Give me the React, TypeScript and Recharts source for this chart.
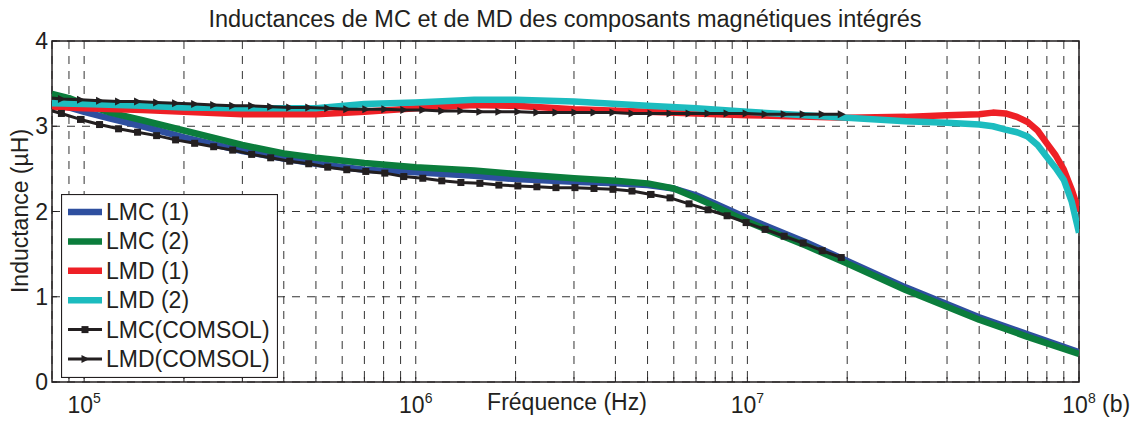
import React from "react";
import {
  LineChart,
  Line,
  XAxis,
  YAxis,
  CartesianGrid,
  ReferenceArea,
  Legend,
} from "recharts";

// measured curves (frequency in Hz, inductance in µH)
const lmcFreq = [8e4, 9e4, 1e5, 1.2e5, 1.5e5, 2e5, 3e5, 4e5, 5e5, 7e5, 1e6, 1.5e6, 2e6, 3e6, 4e6, 5e6, 6e6, 7e6, 8e6, 1e7, 1.5e7, 2e7, 3e7, 5e7, 7e7, 1e8];
const lmc1 = [3.28, 3.22, 3.17, 3.09, 3.0, 2.87, 2.71, 2.62, 2.56, 2.49, 2.46, 2.42, 2.38, 2.35, 2.33, 2.31, 2.27, 2.19, 2.09, 1.92, 1.64, 1.42, 1.11, 0.76, 0.56, 0.35];
const lmc2 = [3.38, 3.33, 3.26, 3.16, 3.07, 2.95, 2.78, 2.68, 2.63, 2.57, 2.52, 2.48, 2.44, 2.39, 2.36, 2.33, 2.27, 2.16, 2.06, 1.88, 1.6, 1.39, 1.08, 0.73, 0.53, 0.33];

const lmdFreq = [8e4, 1e5, 1.5e5, 2e5, 3e5, 5e5, 7e5, 1e6, 1.5e6, 2e6, 3e6, 5e6, 7e6, 1e7, 2e7, 3e7, 4e7, 5e7, 5.5e7, 6e7, 6.5e7, 7e7, 7.5e7, 8e7, 8.5e7, 9e7, 9.5e7, 1e8];
const lmd1 = [3.23, 3.21, 3.19, 3.17, 3.14, 3.14, 3.17, 3.21, 3.25, 3.24, 3.2, 3.17, 3.15, 3.13, 3.1, 3.11, 3.13, 3.14, 3.16, 3.15, 3.11, 3.05, 2.95, 2.8, 2.66, 2.49, 2.26, 2.0];
const lmd2 = [3.27, 3.26, 3.24, 3.22, 3.21, 3.21, 3.26, 3.28, 3.31, 3.31, 3.29, 3.24, 3.21, 3.17, 3.1, 3.06, 3.04, 3.02, 3.0, 2.96, 2.93, 2.88, 2.78, 2.64, 2.51, 2.37, 2.12, 1.75];

// COMSOL simulation points
const comsolFreq = [7.49e4, 8.54e4, 9.75e4, 1.113e5, 1.27e5, 1.449e5, 1.654e5, 1.887e5, 2.154e5, 2.458e5, 2.805e5, 3.2e5, 3.652e5, 4.168e5, 4.756e5, 5.427e5, 6.194e5, 7.068e5, 8.066e5, 9.204e5, 1.05e6, 1.198e6, 1.368e6, 1.561e6, 1.781e6, 2.032e6, 2.319e6, 2.647e6, 3.02e6, 3.447e6, 3.933e6, 4.488e6, 5.122e6, 5.845e6, 6.67e6, 7.612e6, 8.686e6, 9.913e6, 1.131e7, 1.291e7, 1.473e7, 1.681e7, 1.919e7];
const lmcComsol = [3.21, 3.15, 3.08, 3.02, 2.97, 2.93, 2.89, 2.84, 2.8, 2.76, 2.72, 2.67, 2.63, 2.59, 2.56, 2.52, 2.49, 2.47, 2.45, 2.41, 2.39, 2.36, 2.34, 2.33, 2.31, 2.3, 2.29, 2.28, 2.28, 2.27, 2.26, 2.24, 2.2, 2.16, 2.09, 2.02, 1.95, 1.87, 1.79, 1.71, 1.63, 1.54, 1.46];
const lmdComsol = [3.34, 3.32, 3.31, 3.3, 3.29, 3.29, 3.28, 3.27, 3.26, 3.25, 3.24, 3.24, 3.23, 3.22, 3.22, 3.21, 3.2, 3.2, 3.2, 3.19, 3.19, 3.18, 3.18, 3.17, 3.17, 3.17, 3.16, 3.16, 3.16, 3.16, 3.16, 3.15, 3.15, 3.15, 3.15, 3.15, 3.15, 3.15, 3.14, 3.14, 3.14, 3.14, 3.14];

const xTicks = [
  9e4, 1e5, 2e5, 3e5, 4e5, 5e5, 6e5, 7e5, 8e5, 9e5,
  1e6, 2e6, 3e6, 4e6, 5e6, 6e6, 7e6, 8e6, 9e6,
  1e7, 2e7, 3e7, 4e7, 5e7, 6e7, 7e7, 8e7, 9e7, 1e8,
];
const yTicks = [0, 1, 2, 3, 4];

const FONT = '"Liberation Sans", Arial, Helvetica, sans-serif';
const INK = "#231f20";
const FS = 23;

const zip = (f: number[], v: number[]) => f.map((x, i) => ({ f: x, v: v[i] }));

const series = [
  { name: "LMC (1)", data: zip(lmcFreq, lmc1), color: "#2e4f9f", width: 6.5, marker: "" },
  { name: "LMC (2)", data: zip(lmcFreq, lmc2), color: "#0b7d3c", width: 6.5, marker: "" },
  { name: "LMD (1)", data: zip(lmdFreq, lmd1), color: "#ee2026", width: 6.5, marker: "" },
  { name: "LMD (2)", data: zip(lmdFreq, lmd2), color: "#1cbcbf", width: 6.5, marker: "" },
  { name: "LMC(COMSOL)", data: zip(comsolFreq, lmcComsol), color: INK, width: 3, marker: "square" },
  { name: "LMD(COMSOL)", data: zip(comsolFreq, lmdComsol), color: INK, width: 3, marker: "triangle" },
];

const Marker = ({ type, cx, cy }: { type: string; cx: number; cy: number }) => {
  if (type === "square") {
    return <rect x={cx - 3.5} y={cy - 3.5} width={7} height={7} fill={INK} />;
  }
  if (type === "triangle") {
    return <polygon points={`${cx - 3.5},${cy - 4} ${cx + 4.5},${cy} ${cx - 3.5},${cy + 4}`} fill={INK} />;
  }
  return null;
};

const XTick = (props: any) => {
  const { x, y, payload } = props;
  const lg = Math.log10(payload.value);
  const exp = Math.round(lg);
  const major = Math.abs(lg - exp) < 1e-6;
  return (
    <g>
      <line x1={x} x2={x} y1={y} y2={y - 5} stroke={INK} strokeWidth={1} />
      {major && (
        <text x={x} y={y + 31} textAnchor="middle" fontSize={FS} fontFamily={FONT} fill={INK}>
          10
          <tspan dy={-10} fontSize={14}>
            {exp}
          </tspan>
        </text>
      )}
    </g>
  );
};

const YTick = (props: any) => {
  const { x, y, payload } = props;
  return (
    <g>
      <line x1={x} x2={x + 5} y1={y} y2={y} stroke={INK} strokeWidth={1} />
      <text x={x - 4} y={y + 8} textAnchor="end" fontSize={FS} fontFamily={FONT} fill={INK}>
        {payload.value}
      </text>
    </g>
  );
};

const LegendBox = () => (
  <svg width={217} height={184} style={{ display: "block" }}>
    <rect x={0.5} y={0.5} width={216} height={183} fill="#fff" stroke={INK} strokeWidth={1.2} />
    {series.map((s, i) => {
      const cy = 18 + 29.4 * i;
      return (
        <g key={s.name}>
          <line x1={7} x2={41} y1={cy} y2={cy} stroke={s.color} strokeWidth={s.width} />
          <Marker type={s.marker} cx={24} cy={cy} />
          <text x={45} y={cy + 8} fontSize={FS} fontFamily={FONT} fill={INK}>
            {s.name}
          </text>
        </g>
      );
    })}
  </svg>
);

export default function App() {
  return (
    <div style={{ position: "relative", width: 1125, height: 415, fontFamily: FONT }}>
      <LineChart width={1125} height={415} margin={{ top: 33, right: 54, bottom: 11, left: 14 }}>
        <CartesianGrid stroke="#333" strokeWidth={1} strokeDasharray="8 7" />
        <XAxis
          type="number"
          dataKey="f"
          scale="log"
          domain={[8e4, 1e8]}
          allowDataOverflow
          ticks={xTicks}
          interval={0}
          tick={<XTick />}
          tickLine={false}
          axisLine={false}
          tickSize={0}
          tickMargin={0}
          height={30}
        />
        <YAxis
          type="number"
          domain={[0, 4]}
          allowDataOverflow
          ticks={yTicks}
          interval={0}
          tick={<YTick />}
          tickLine={false}
          axisLine={false}
          tickSize={0}
          tickMargin={0}
          width={30}
        />
        {series.map((s) => (
          <Line
            key={s.name}
            data={s.data}
            dataKey="v"
            name={s.name}
            type="linear"
            stroke={s.color}
            strokeWidth={s.width}
            strokeLinejoin="round"
            dot={
              s.marker
                ? (p: any) => <Marker key={`${s.name}-${p.index}`} type={s.marker} cx={p.cx} cy={p.cy} />
                : false
            }
            activeDot={false}
            isAnimationActive={false}
          />
        ))}
        <ReferenceArea x1={8e4} x2={1e8} y1={0} y2={4} fill="none" stroke={INK} strokeWidth={1.5} />
        <Legend
          layout="vertical"
          align="center"
          verticalAlign="middle"
          content={<LegendBox />}
          wrapperStyle={{ left: 53, top: 186, width: 217, height: 184 }}
        />
      </LineChart>
      <svg
        width={1125}
        height={415}
        style={{ position: "absolute", left: 0, top: 0, pointerEvents: "none", overflow: "visible" }}
      >
        <text x={557} y={19} textAnchor="middle" fontSize={FS + 0.5} fontFamily={FONT} fill={INK}>
          Inductances de MC et de MD des composants magnétiques intégrés
        </text>
        <text transform="translate(20,203) rotate(-90)" textAnchor="middle" fontSize={FS} fontFamily={FONT} fill={INK}>
          Inductance (µH)
        </text>
        <text x={559} y={402} textAnchor="middle" fontSize={FS} fontFamily={FONT} fill={INK}>
          Fréquence (Hz)
        </text>
        <text x={1094} y={404} fontSize={FS} fontFamily={FONT} fill={INK}>
          (b)
        </text>
      </svg>
    </div>
  );
}
